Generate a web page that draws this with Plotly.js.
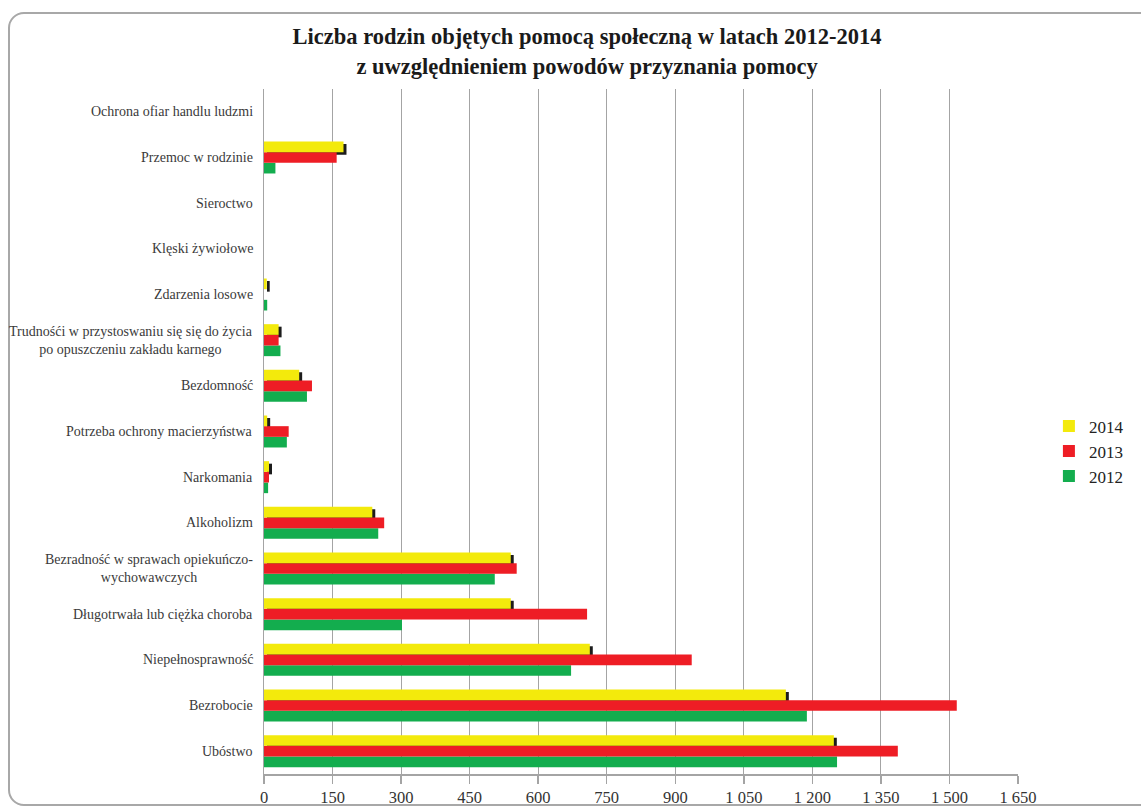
<!DOCTYPE html>
<html>
<head>
<meta charset="utf-8">
<script src="https://cdn.plot.ly/plotly-3.0.1.min.js"></script>
<style>
  html, body { margin: 0; padding: 0; background: #fff; }
  #frame { position: absolute; left: 8px; top: 12px; width: 1170px; height: 794px;
           border: 2px solid #a8a8a8; border-radius: 16px; box-sizing: border-box; }
  #chart { position: absolute; left: 0; top: 0; width: 1141px; height: 809px; }
</style>
</head>
<body>
<div id="frame"></div>
<div id="chart"></div>
<script>
// Categories listed bottom to top
const categories = [
  'Ubóstwo',
  'Bezrobocie',
  'Niepełnosprawność',
  'Długotrwała lub ciężka choroba',
  'Bezradność w sprawach opiekuńczo-<br>wychowawczych',
  'Alkoholizm',
  'Narkomania',
  'Potrzeba ochrony macierzyństwa',
  'Bezdomność',
  'Trudnośći w przystoswaniu się się do życia<br>po opuszczeniu zakładu karnego',
  'Zdarzenia losowe',
  'Klęski żywiołowe',
  'Sieroctwo',
  'Przemoc w rodzinie',
  'Ochrona ofiar handlu ludzmi'
];
const values2014 = [1247, 1142, 713, 540, 540, 237, 11, 7, 77, 32, 6, 0, 0, 174, 0];
const values2013 = [1387, 1516, 936, 707, 553, 263, 11, 54, 105, 32, 0, 0, 0, 159, 0];
const values2012 = [1254, 1188, 672, 302, 505, 250, 9, 50, 94, 36, 7, 0, 0, 25, 0];
const tickValues = [0, 150, 300, 450, 600, 750, 900, 1050, 1200, 1350, 1500, 1650];
const tickLabels = ['0', '150', '300', '450', '600', '750', '900', '1 050', '1 200', '1 350', '1 500', '1 650'];

const FONT = '"Liberation Serif", "Times New Roman", serif';

const shadow = {
  type: 'bar', orientation: 'h', name: 'shadow',
  y: categories, x: values2014,
  xaxis: 'x', yaxis: 'y',
  width: 0.2333, offset: 0.062,
  marker: { color: '#1c1c1c', line: { width: 0 } },
  showlegend: false, hoverinfo: 'skip'
};
const t2012 = { type: 'bar', orientation: 'h', name: '2012', y: categories, x: values2012,
  xaxis: 'x2', yaxis: 'y', marker: { color: '#13AD4E', line: { width: 0 } } };
const t2013 = { type: 'bar', orientation: 'h', name: '2013', y: categories, x: values2013,
  xaxis: 'x2', yaxis: 'y', marker: { color: '#EE1D25', line: { width: 0 } } };
const t2014 = { type: 'bar', orientation: 'h', name: '2014', y: categories, x: values2014,
  xaxis: 'x2', yaxis: 'y', marker: { color: '#F3EA0C', line: { width: 0 } } };

const annotations = categories.map(c => ({
  x: 0, xref: 'paper', xanchor: 'right', xshift: -9,
  y: c, yref: 'y', yanchor: 'middle',
  text: c, align: 'center', showarrow: false,
  font: { family: FONT, size: 14, color: '#3a3a3a' }
}));

const layout = {
  width: 1141, height: 809,
  paper_bgcolor: 'rgba(0,0,0,0)', plot_bgcolor: 'rgba(0,0,0,0)',
  margin: { l: 264, r: 123, t: 89, b: 35 },
  title: {
    text: '<b>Liczba rodzin objętych pomocą społeczną w latach 2012-2014<br>z uwzględnieniem powodów przyznania pomocy</b>',
    font: { family: FONT, size: 22.5, color: '#1a1a1a' },
    x: 0.5145, xanchor: 'center', xref: 'container',
    y: 0.945, yanchor: 'top', yref: 'container'
  },
  barmode: 'group', bargap: 0.3, bargroupgap: 0,
  xaxis: { range: [-6.5, 1643.5], visible: false, fixedrange: true },
  xaxis2: {
    overlaying: 'x', anchor: 'y', side: 'bottom',
    range: [0, 1650], tickvals: tickValues, ticktext: tickLabels,
    showgrid: true, gridcolor: '#a4a4a4', gridwidth: 1, zeroline: false,
    showline: true, linecolor: '#a4a4a4', linewidth: 1.5,
    ticks: 'outside', ticklen: 8, tickcolor: '#a4a4a4', tickwidth: 1.5,
    tickfont: { family: FONT, size: 16.5, color: '#333' }
  },
  yaxis: {
    type: 'category', categoryorder: 'array', categoryarray: categories,
    showticklabels: false, ticks: '', showgrid: false, zeroline: false,
    showline: true, linecolor: '#a4a4a4', linewidth: 1.5
  },
  legend: {
    x: 1.041, xanchor: 'left', y: 0.471, yanchor: 'middle',
    traceorder: 'reversed', bgcolor: 'rgba(0,0,0,0)',
    font: { family: FONT, size: 17, color: '#222' },
    itemwidth: 30, tracegroupgap: 0
  },
  annotations: annotations,
  showlegend: true
};

Plotly.newPlot('chart', [shadow, t2012, t2013, t2014], layout, { displayModeBar: false, staticPlot: true });
</script>
</body>
</html>
